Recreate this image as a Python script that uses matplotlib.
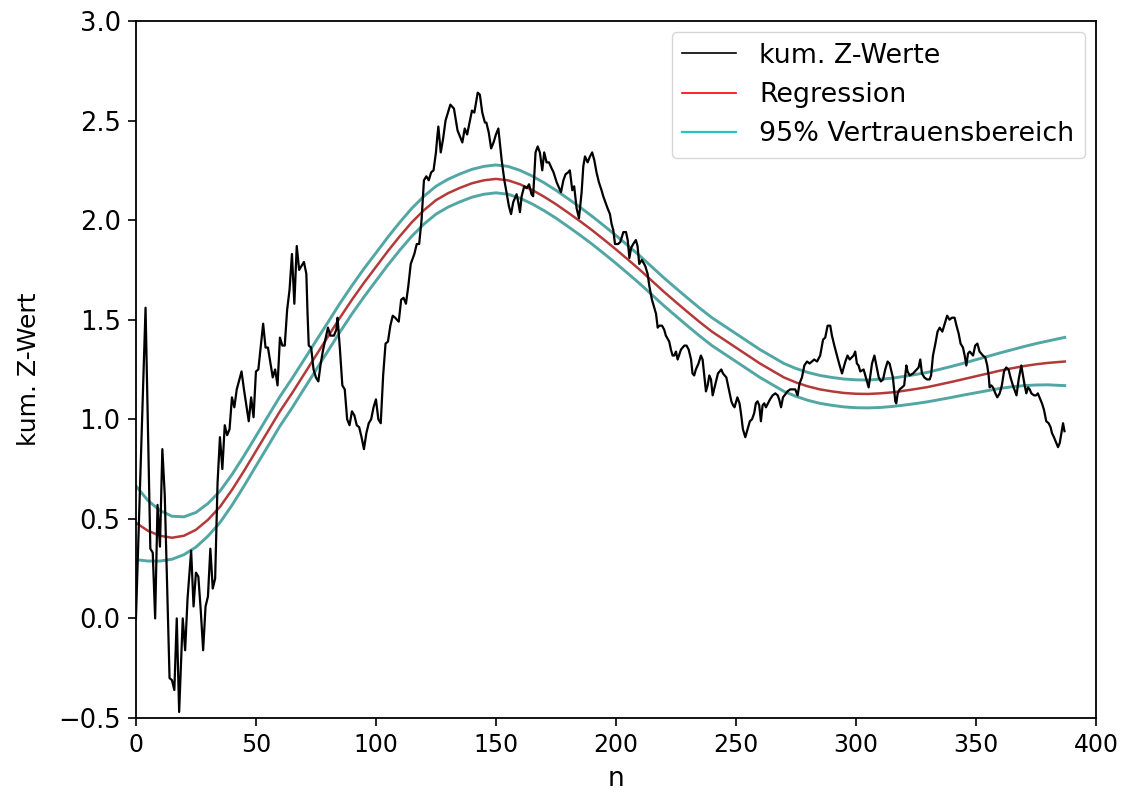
import numpy as np
import matplotlib
matplotlib.use("Agg")
import matplotlib.pyplot as plt
from matplotlib.lines import Line2D

# cumulated Z values, (n, z)
kum_pts = [
    (0, 0.0), (4, 1.56), (6, 0.35), (7, 0.33), (8, 0.0), (9, 0.57), (10, 0.36),
    (11, 0.85), (12, 0.62), (14, -0.30), (15, -0.31), (16, -0.36), (17, 0.0),
    (18, -0.47), (19.5, 0.0), (20.5, -0.16), (21.5, 0.10), (23, 0.34), (24, 0.06),
    (25, 0.23), (26, 0.21), (27, 0.04), (28, -0.16), (29, 0.06), (30, 0.11),
    (31, 0.35), (32, 0.15), (33, 0.20), (34, 0.68), (35, 0.91), (36, 0.75),
    (37, 0.97), (38, 0.92), (39, 0.95), (40, 1.11), (41, 1.06), (42, 1.15),
    (44, 1.24), (45, 1.15), (46, 1.07), (47, 0.99), (48, 1.11), (49, 1.01),
    (50, 1.24), (51, 1.25), (53, 1.48), (54, 1.36), (55, 1.36), (57, 1.21),
    (58, 1.25), (59, 1.17), (60, 1.41), (61, 1.37), (62, 1.37), (63, 1.55),
    (64, 1.65), (65, 1.83), (66, 1.58), (67, 1.87), (68, 1.75), (69, 1.77),
    (70, 1.79), (71, 1.73), (71.5, 1.53), (72, 1.37), (73, 1.36), (74, 1.25),
    (75, 1.21), (76, 1.19), (77, 1.28), (78, 1.35), (80, 1.46), (81, 1.42),
    (82.5, 1.42), (83.5, 1.45), (84, 1.51), (85, 1.35), (86, 1.17), (87, 1.15),
    (88, 1.00), (89, 0.97), (90, 1.04), (91, 1.02), (92, 0.97), (93, 0.96),
    (94, 0.91), (95, 0.85), (96, 0.93), (97, 0.98), (98, 1.00), (99, 1.06),
    (100, 1.10), (101, 1.00), (102, 0.98), (103, 1.22), (104, 1.38), (105, 1.39),
    (106, 1.47), (107, 1.52), (108, 1.51), (109.5, 1.49), (110.5, 1.60),
    (111.5, 1.61), (112.5, 1.58), (113.5, 1.67), (114.5, 1.78), (116, 1.83),
    (117, 1.88), (118, 1.88), (119, 2.00), (120, 2.20), (121, 2.22), (122, 2.20),
    (123, 2.24), (124, 2.25), (125, 2.34), (125.5, 2.41), (126, 2.47), (127, 2.34),
    (128, 2.41), (129, 2.50), (130, 2.54), (131, 2.58), (132.5, 2.56), (134, 2.45),
    (136, 2.39), (137, 2.46), (138, 2.43), (140, 2.55), (141, 2.54), (142.4, 2.64),
    (143.3, 2.63), (144.3, 2.54), (145.4, 2.49), (146, 2.49), (147, 2.44),
    (148, 2.36), (149, 2.39), (150, 2.43), (151, 2.46), (152.4, 2.30), (153.5, 2.20),
    (154.4, 2.14), (155.4, 2.07), (156.3, 2.03), (157.2, 2.09), (158.6, 2.13),
    (159.3, 2.09), (160, 2.04), (160.7, 2.12), (161.8, 2.17), (162.8, 2.16),
    (163.8, 2.18), (164.8, 2.13), (165.5, 2.12), (166.5, 2.34), (167.4, 2.37),
    (168.3, 2.34), (169.3, 2.25), (170.1, 2.34), (171.1, 2.29), (172.1, 2.29),
    (173.2, 2.26), (174, 2.24), (175.3, 2.19), (177.1, 2.14), (178.1, 2.20),
    (179, 2.23), (180.1, 2.24), (180.8, 2.25), (181.8, 2.15), (182.6, 2.17),
    (183.6, 2.06), (184.6, 2.01), (185.7, 2.14), (186.4, 2.27), (187.1, 2.32),
    (188.2, 2.29), (189.2, 2.32), (190.1, 2.34), (191, 2.30), (191.9, 2.24),
    (192.9, 2.19), (194, 2.15), (194.7, 2.12), (196.5, 2.06), (197.5, 2.03),
    (198.2, 1.98), (198.9, 1.95), (199.6, 1.88), (200.9, 1.88), (201.8, 1.89),
    (203.1, 1.94), (204.2, 1.94), (204.9, 1.90), (205.6, 1.81), (206.3, 1.86),
    (207.2, 1.88), (208.3, 1.90), (209, 1.87), (209.7, 1.78), (210.8, 1.80),
    (212.2, 1.77), (213.2, 1.73), (213.9, 1.67), (215, 1.60), (216.7, 1.53),
    (217.4, 1.46), (218.1, 1.47), (219.2, 1.47), (220.1, 1.45), (220.8, 1.42),
    (222.2, 1.39), (222.9, 1.35), (223.6, 1.32), (224.3, 1.32), (225, 1.34),
    (225.7, 1.30), (227.1, 1.35), (227.8, 1.36), (228.5, 1.37), (229.4, 1.37),
    (230.3, 1.35), (231.3, 1.30), (231.9, 1.23), (232.6, 1.22), (233.3, 1.25),
    (234.4, 1.28), (235.4, 1.32), (236.1, 1.30), (236.8, 1.22), (237.5, 1.14),
    (238.2, 1.17), (238.9, 1.22), (239.6, 1.20), (240.3, 1.12), (241.7, 1.19),
    (242.5, 1.23), (243.9, 1.25), (244.6, 1.23), (246, 1.21), (246.7, 1.17),
    (247.4, 1.13), (248.1, 1.09), (248.8, 1.07), (249.4, 1.06), (250.6, 1.11),
    (251.5, 1.08), (252.2, 1.02), (252.9, 0.95), (253.9, 0.91), (255.8, 0.99),
    (256.7, 1.00), (257.6, 1.03), (258.3, 1.08), (259, 1.09), (259.7, 1.07),
    (260.4, 0.99), (261.1, 1.07), (261.8, 1.08), (262.5, 1.06), (264.2, 1.10),
    (265.3, 1.12), (266.4, 1.13), (267.4, 1.12), (268, 1.10), (268.8, 1.06),
    (269.6, 1.11), (271.5, 1.14), (272.6, 1.15), (274.7, 1.15), (275.7, 1.12),
    (276.5, 1.18), (277.5, 1.21), (278.5, 1.27), (279.6, 1.29), (280.7, 1.28),
    (282.6, 1.30), (283.8, 1.29), (285.1, 1.32), (286.3, 1.40), (287.2, 1.41),
    (288.2, 1.47), (289.3, 1.47), (290, 1.42), (291, 1.37), (292.1, 1.32),
    (293.2, 1.27), (294.2, 1.23), (295.6, 1.29), (296.5, 1.32), (297.4, 1.30),
    (299, 1.32), (299.7, 1.34), (300.4, 1.28), (301.1, 1.27), (301.8, 1.24),
    (303.2, 1.25), (304.6, 1.19), (305.3, 1.16), (306, 1.22), (306.7, 1.28),
    (307.7, 1.32), (308.5, 1.27), (309.5, 1.21), (310.4, 1.19), (311.3, 1.20),
    (312.2, 1.25), (313.2, 1.29), (314, 1.28), (315.4, 1.21), (316.4, 1.09),
    (316.8, 1.08), (317.4, 1.13), (318.2, 1.15), (319.2, 1.16), (320.1, 1.17),
    (321, 1.27), (321.5, 1.24), (322.4, 1.22), (323.8, 1.23), (326.1, 1.26),
    (326.8, 1.30), (327.5, 1.23), (328.5, 1.21), (329.6, 1.20), (330.7, 1.20),
    (331.3, 1.22), (332.1, 1.32), (333.1, 1.38), (334, 1.44), (334.9, 1.46),
    (336, 1.44), (338, 1.52), (339, 1.50), (340, 1.51), (341.1, 1.51),
    (341.9, 1.47), (342.8, 1.43), (343.6, 1.38), (344.6, 1.36), (345.3, 1.32),
    (346, 1.27), (346.7, 1.33), (347.4, 1.34), (348.8, 1.32), (349.7, 1.37),
    (350.6, 1.38), (351.5, 1.34), (352.2, 1.33), (352.9, 1.32), (353.9, 1.31),
    (354.7, 1.27), (355.3, 1.22), (355.7, 1.16), (356.4, 1.17), (357.1, 1.16),
    (358.1, 1.13), (358.9, 1.11), (359.9, 1.13), (360.8, 1.17), (361.7, 1.24),
    (362.6, 1.26), (363.6, 1.25), (364.4, 1.21), (365.4, 1.17), (366.9, 1.12),
    (367.8, 1.20), (368.9, 1.27), (369.6, 1.22), (370.3, 1.17), (371, 1.13),
    (371.7, 1.16), (372.4, 1.15), (373.1, 1.13), (374.2, 1.12), (375.1, 1.12),
    (375.8, 1.13), (376.5, 1.11), (377.5, 1.08), (378.3, 1.05), (379.3, 0.99),
    (380.3, 0.98), (381.1, 0.96), (381.7, 0.93), (382.5, 0.91), (383.5, 0.88),
    (384.2, 0.86), (384.9, 0.88), (385.6, 0.93), (386.3, 0.98), (386.9, 0.94),
]

# regression curve, read every 5 steps of n
fit_n = list(range(0, 386, 5)) + [387]
fit_z = [
    0.48, 0.44, 0.415, 0.405, 0.415, 0.445, 0.495, 0.56, 0.645, 0.74,
    0.84, 0.94, 1.04, 1.13, 1.225, 1.32, 1.415, 1.51, 1.60, 1.685,
    1.765, 1.845, 1.92, 1.99, 2.05, 2.10, 2.135, 2.162, 2.185, 2.20,
    2.207, 2.20, 2.18, 2.152, 2.118, 2.08, 2.038, 1.995, 1.95, 1.902,
    1.853, 1.802, 1.75, 1.695, 1.64, 1.588, 1.537, 1.487, 1.44, 1.40,
    1.36, 1.32, 1.28, 1.245, 1.21, 1.185, 1.165, 1.15, 1.14, 1.132,
    1.128, 1.127, 1.13, 1.135, 1.143, 1.152, 1.162, 1.175, 1.188, 1.202,
    1.216, 1.23, 1.244, 1.256, 1.267, 1.276, 1.283, 1.288, 1.29,
]
# half width of the 95% band at the same n
band_half = [
    0.185, 0.152, 0.127, 0.108, 0.095, 0.087, 0.082, 0.079, 0.077, 0.076,
    0.075, 0.075, 0.074, 0.074, 0.073, 0.073, 0.072, 0.072, 0.071, 0.071,
    0.070, 0.070, 0.070, 0.070, 0.070, 0.070, 0.070, 0.070, 0.070, 0.070,
    0.070, 0.070, 0.070, 0.070, 0.070, 0.070, 0.070, 0.070, 0.070, 0.070,
    0.070, 0.070, 0.070, 0.070, 0.070, 0.070, 0.070, 0.070, 0.070, 0.070,
    0.070, 0.070, 0.070, 0.070, 0.070, 0.070, 0.070, 0.070, 0.070, 0.070,
    0.070, 0.070, 0.071, 0.071, 0.072, 0.073, 0.074, 0.076, 0.078, 0.080,
    0.083, 0.086, 0.089, 0.093, 0.098, 0.104, 0.110, 0.118, 0.121,
]

x_ticks = [0, 50, 100, 150, 200, 250, 300, 350, 400]
y_ticks = [-0.5, 0.0, 0.5, 1.0, 1.5, 2.0, 2.5, 3.0]

kum = np.array(kum_pts)
fit_z = np.array(fit_z)
band_half = np.array(band_half)

fig = plt.figure(figsize=(11.31, 7.98), dpi=100)
ax = fig.add_axes([0.1202, 0.1003, 0.8488, 0.8734])

ax.plot(fit_n, fit_z + band_half, color='#52a6a3', lw=2.1, zorder=2)
ax.plot(fit_n, fit_z - band_half, color='#52a6a3', lw=2.1, zorder=2)
ax.plot(fit_n, fit_z, color='#b43a3a', lw=1.8, zorder=2)
ax.plot(kum[:, 0], kum[:, 1], color='black', lw=1.6, zorder=3)

ax.set_xlim(0, 400)
ax.set_ylim(-0.5, 3.0)
ax.set_xticks(x_ticks)
ax.set_yticks(y_ticks)
ax.set_yticklabels([f"{v:.1f}".replace('-', '\u2212') for v in y_ticks], fontsize=18.5)
ax.set_xticklabels([str(v) for v in x_ticks], fontsize=17)
ax.tick_params(length=6, width=1.2, pad=5)
for s in ax.spines.values():
    s.set_linewidth(1.3)

ax.set_xlabel('n', fontsize=19, labelpad=6)
ax.set_ylabel('kum. Z-Wert', fontsize=18, labelpad=12)

handles = [
    Line2D([], [], color='black', lw=1.2),
    Line2D([], [], color='red', lw=1.2),
    Line2D([], [], color='#22c4c4', lw=1.6),
]
ax.legend(handles, ['kum. Z-Werte', 'Regression', '95% Vertrauensbereich'],
          loc='upper right', fontsize=19.4, handlelength=2.0, handletextpad=0.85,
          borderaxespad=0.4)

fig.savefig('out.png', dpi=100)
